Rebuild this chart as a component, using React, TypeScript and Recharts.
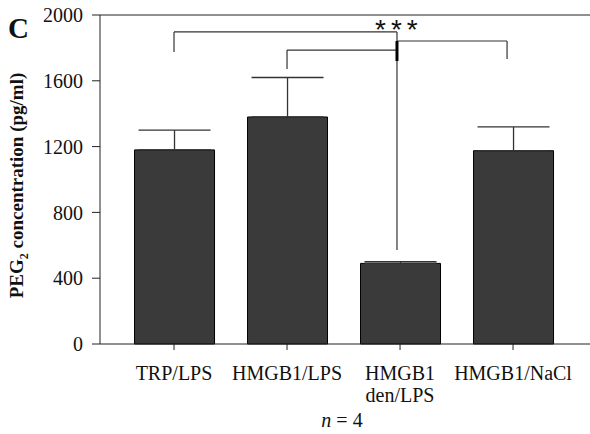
import React from "react"
import {
  BarChart,
  Bar,
  XAxis,
  YAxis,
  ErrorBar,
  ReferenceLine,
  ReferenceDot,
  Label,
} from "recharts"

const groups = ["TRP/LPS", "HMGB1/LPS", "HMGB1\nden/LPS", "HMGB1/NaCl"]
const means = [1180, 1380, 490, 1175]
const sem = [120, 240, 10, 145]
const yTicks = [0, 400, 800, 1200, 1600, 2000]

// significance brackets, in data units: [x1, y1, x2, y2]
const bracketSegments: [number, number, number, number][] = [
  [0, 1775, 0, 1897],
  [0, 1897, 1.973, 1897],
  [1, 1672, 1, 1787],
  [1, 1787, 1.973, 1787],
  [1.973, 1842, 2.947, 1842],
  [2.947, 1842, 2.947, 1733],
  [1.973, 1897, 1.973, 571],
]
const thickSegment: [number, number, number, number] = [1.973, 1842, 1.973, 1720]
const sigMark = { x: 1.99, y: 1854, text: "***" }

const serif = '"Liberation Serif", "Times New Roman", serif'
const ink = "#222"

const data = groups.map((name, i) => ({
  pos: i,
  name,
  mean: means[i],
  err: [0, sem[i]],
}))

function GroupTick(props: any) {
  const { x, y, payload } = props
  const lines = String(groups[payload.value] ?? "").split("\n")
  return (
    <text x={x} y={y} textAnchor="middle" fontFamily={serif} fontSize={20} fill="#111">
      {lines.map((l, i) => (
        <tspan key={i} x={x} dy={i === 0 ? 28 : 22}>
          {l}
        </tspan>
      ))}
    </text>
  )
}

export default function App() {
  return (
    <div style={{ position: "absolute", left: 0, top: 0, width: 590, height: 434, background: "#fff" }}>
      <div
        style={{
          position: "absolute",
          left: 8,
          top: 14,
          fontFamily: serif,
          fontWeight: "bold",
          fontSize: 29,
          lineHeight: "29px",
          color: "#111",
        }}
      >
        C
      </div>
      <BarChart
        width={590}
        height={434}
        data={data}
        margin={{ top: 15, right: 0, bottom: 0, left: 0 }}
      >
        <XAxis
          type="number"
          dataKey="pos"
          domain={[-0.655, 3.681]}
          ticks={[0, 1, 2, 3]}
          allowDataOverflow
          height={90}
          tickSize={6}
          stroke={ink}
          tick={<GroupTick />}
          label={
            <Label
              content={({ viewBox }: any) => (
                <text
                  x={viewBox.x + viewBox.width / 2 - 3}
                  y={viewBox.y + 83}
                  textAnchor="middle"
                  fontFamily={serif}
                  fontSize={20}
                  fill="#111"
                >
                  <tspan fontStyle="italic">n</tspan> = 4
                </text>
              )}
            />
          }
        />
        <YAxis
          width={100}
          domain={[0, 2000]}
          ticks={yTicks}
          tickSize={8}
          tickMargin={9}
          stroke={ink}
          tick={{ fontFamily: serif, fontSize: 20, fill: "#111" }}
          label={
            <Label
              content={({ viewBox }: any) => {
                const cx = 23
                const cy = viewBox.y + viewBox.height / 2 + 6
                return (
                  <text
                    x={cx}
                    y={cy}
                    transform={`rotate(-90 ${cx} ${cy})`}
                    textAnchor="middle"
                    fontFamily={serif}
                    fontWeight="bold"
                    fontSize={19}
                    fill="#111"
                  >
                    PEG
                    <tspan fontSize={12} dy={5}>
                      2
                    </tspan>
                    <tspan dy={-5}> concentration (pg/ml)</tspan>
                  </text>
                )
              }}
            />
          }
        />
        <ReferenceLine y={2000} stroke={ink} strokeWidth={1} />
        <Bar dataKey="mean" barSize={80} fill="#3a3a3a" stroke="#000" strokeWidth={1} isAnimationActive={false}>
          <ErrorBar dataKey="err" width={36} stroke="#333" strokeWidth={1.3} direction="y" />
        </Bar>
        {bracketSegments.map(([x1, y1, x2, y2], i) => (
          <ReferenceLine
            key={i}
            segment={[
              { x: x1, y: y1 },
              { x: x2, y: y2 },
            ]}
            stroke="#333"
            strokeWidth={1.2}
            ifOverflow="visible"
          />
        ))}
        <ReferenceLine
          segment={[
            { x: thickSegment[0], y: thickSegment[1] },
            { x: thickSegment[2], y: thickSegment[3] },
          ]}
          stroke="#000"
          strokeWidth={3}
          ifOverflow="visible"
        />
        <ReferenceDot
          x={sigMark.x}
          y={sigMark.y}
          ifOverflow="visible"
          shape={(p: any) => (
            <text
              x={p.cx}
              y={p.cy}
              textAnchor="middle"
              fontFamily='"Liberation Sans", Arial, sans-serif'
              fontSize={28}
              letterSpacing={5}
              fill="#111"
            >
              {sigMark.text}
            </text>
          )}
        />
      </BarChart>
    </div>
  )
}
